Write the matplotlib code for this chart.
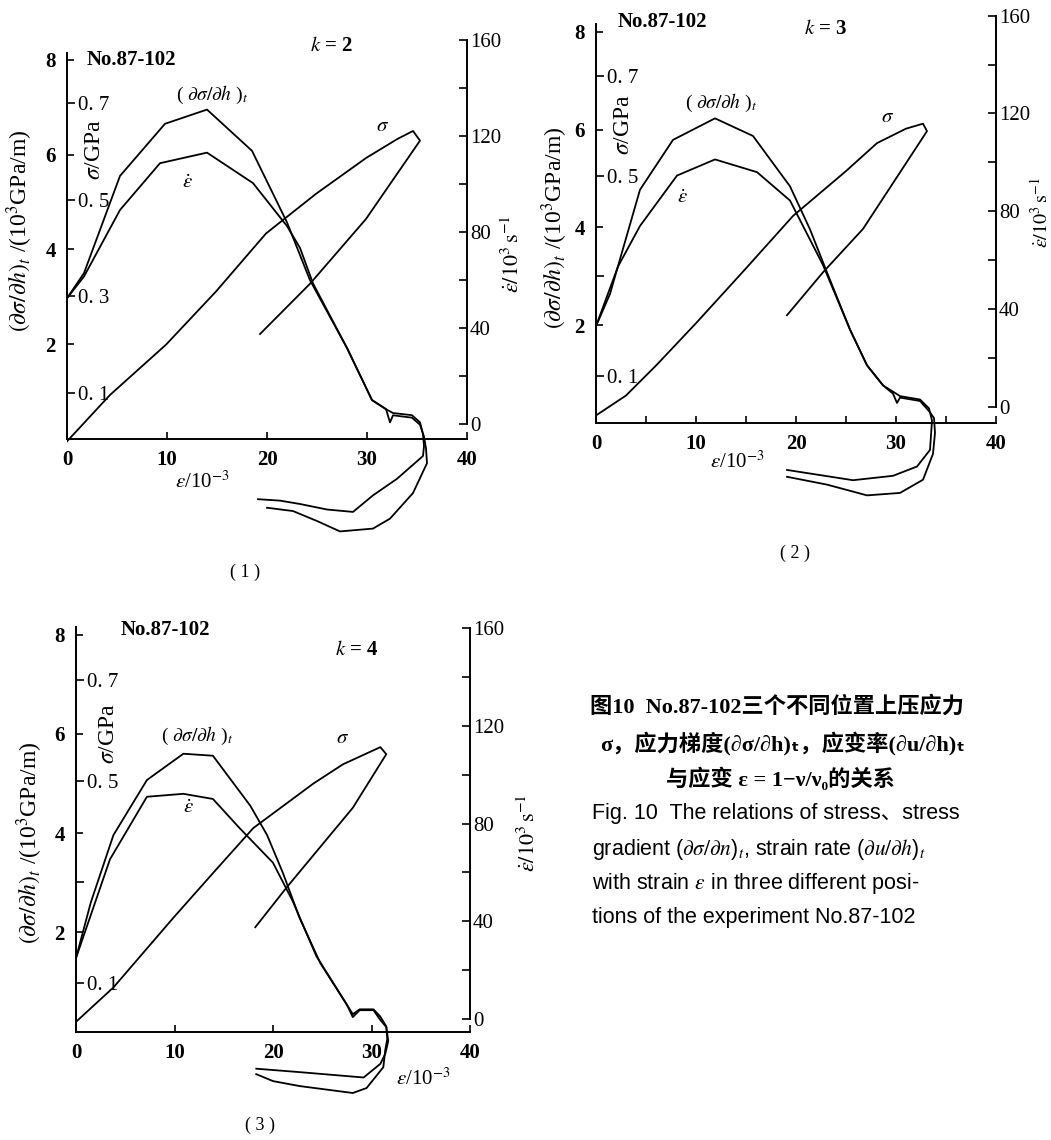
import matplotlib.pyplot as plt
from matplotlib.ticker import FixedLocator, FixedFormatter

plt.rcParams['mathtext.fontset'] = 'stix'
plt.rcParams['font.family'] = ['Liberation Serif', 'Noto Sans CJK SC', 'DejaVu Sans']

W, H = 1051, 1140

# ---- panel (1), k = 2 ----
grad1_x = [0, 1.7, 5.3, 9.8, 14.0, 18.5, 22.0, 24.3, 28.0, 30.5, 31.9, 32.3, 32.6, 34.5, 35.3,
           35.7, 35.9, 36.0, 34.6, 32.3, 30.6, 27.3, 25.0, 22.6, 20.0]
grad1_y = [2.97, 3.5, 5.55, 6.65, 6.95, 6.08, 4.57, 3.35, 1.92, 0.82, 0.63, 0.35, 0.5, 0.45, 0.3,
           0.05, -0.2, -0.51, -1.14, -1.68, -1.89, -1.95, -1.73, -1.52, -1.45]
rate1_x = [0, 1.7, 5.3, 9.3, 14.0, 18.6, 22.0, 23.3, 24.6, 28.0, 30.5, 31.9, 32.6, 34.5, 35.3,
           35.6, 35.7, 35.6, 33.0, 30.6, 28.6, 26.0, 23.3, 21.3, 19.1]
rate1_y = [52.3, 61.4, 89.1, 108.6, 113.0, 100.3, 82.4, 73.3, 58.5, 31.6, 9.9, 6.1, 4.5, 3.6, 0.6,
           -4.3, -9.3, -13.4, -22.9, -29.8, -36.7, -35.7, -33.4, -32.0, -31.4]
sig1_x = [0, 4.3, 9.9, 14.9, 19.9, 24.9, 29.9, 33.0, 34.6, 35.3, 29.9, 24.3, 19.3]
sig1_y = [0.0, 0.096, 0.2, 0.31, 0.43, 0.512, 0.586, 0.625, 0.642, 0.622, 0.46, 0.326, 0.222]

# ---- panel (2), k = 3 ----
grad2_x = [0, 1.4, 4.4, 7.7, 11.9, 15.7, 19.4, 21.4, 23.1, 25.4, 27.1, 28.7, 29.7, 30.1, 30.4,
           32.4, 33.4, 33.8, 33.9, 33.7, 32.7, 30.4, 27.1, 23.1, 19.1]
grad2_y = [1.98, 2.64, 4.77, 5.79, 6.23, 5.87, 4.84, 3.96, 3.08, 1.91, 1.18, 0.77, 0.6, 0.41, 0.52,
           0.45, 0.22, 0.1, -0.2, -0.63, -1.16, -1.43, -1.48, -1.26, -1.10]
rate2_x = [0, 2.2, 4.4, 8.1, 11.9, 16.1, 19.4, 22.7, 25.4, 27.1, 28.7, 30.4, 32.4, 33.3, 33.6,
           33.5, 33.4, 32.1, 29.7, 25.7, 19.1]
rate2_y = [33.0, 57.4, 74.0, 94.6, 101.2, 96.0, 84.4, 58.0, 31.6, 17.0, 8.8, 4.4, 3.0, -0.6, -5.6,
           -11.6, -17.6, -24.4, -28.2, -30.0, -25.8]
sig2_x = [0, 3, 6, 10, 15, 19.7, 25, 28.1, 31, 32.7, 33.1, 26.7, 22.7, 19.1]
sig2_y = [0.02, 0.06, 0.12, 0.205, 0.315, 0.42, 0.51, 0.566, 0.595, 0.605, 0.59, 0.394, 0.307, 0.221]

# ---- panel (3), k = 4 ----
grad3_x = [0, 1.5, 3.8, 7.2, 10.9, 13.9, 17.7, 19.4, 21.0, 22.7, 24.8, 27.5, 28.1, 28.8, 30.2,
           30.9, 31.5, 31.6, 31.4, 31.2, 29.5, 28.1, 22.7, 20.0, 18.3]
grad3_y = [1.48, 2.6, 3.96, 5.07, 5.6, 5.56, 4.55, 3.96, 3.2, 2.29, 1.38, 0.54, 0.29, 0.43, 0.43,
           0.23, 0.09, -0.15, -0.37, -0.72, -1.14, -1.24, -1.1, -1.0, -0.86]
rate3_x = [0, 3.45, 7.2, 10.9, 13.9, 16.6, 20.0, 22.0, 24.4, 27.5, 28.1, 28.8, 30.2, 30.9, 31.5,
           31.7, 31.4, 30.9, 29.2, 22.7, 18.3]
rate3_y = [25.0, 65.4, 91.0, 92.2, 90.1, 78.2, 64.0, 48.3, 25.8, 5.9, 2.0, 4.0, 4.0, 1.0, -3.0,
           -9.0, -14.2, -18.3, -23.9, -21.7, -20.3]
sig3_x = [0, 3.8, 9.9, 14, 18, 24.1, 27.1, 30.9, 31.5, 28.1, 21.4, 18.2]
sig3_y = [0.024, 0.092, 0.23, 0.32, 0.407, 0.495, 0.533, 0.567, 0.553, 0.447, 0.29, 0.211]

k_labels = ['2', '3', '4']
rate_ticks = list(range(0, 161, 20))
rate_labels = [str(v) if v % 40 == 0 else '' for v in rate_ticks]

fig = plt.figure(figsize=(W / 100, H / 100), dpi=100)

YLO, YHI = -2.6, 8.8
LW = 1.3


def panel(x0, y0, sx, sy, rate_off, rate_k, grad, rate, sig, k, pos, minor_x=False,
          sig_labels=('0. 1', '0. 3', '0. 5', '0. 7'), rfont=16):
    bottom_px = y0 - YLO * sy
    top_px = y0 - YHI * sy
    ax = fig.add_axes([x0 / W, 1 - bottom_px / H, 40 * sx / W, (bottom_px - top_px) / H])
    ax.set_xlim(0, 40)
    ax.set_ylim(YLO, YHI)
    ax.patch.set_visible(False)
    for s in ['top', 'right']:
        ax.spines[s].set_visible(False)
    ax.spines['bottom'].set_position(('data', 0))
    ax.spines['bottom'].set_bounds(0, 40)
    ax.spines['left'].set_bounds(0, 8.15)
    for s in ['bottom', 'left']:
        ax.spines[s].set_linewidth(1.4)
    ax.set_xticks([0, 10, 20, 30, 40])
    if minor_x:
        ax.set_xticks([5, 15, 25, 35], minor=True)
    ax.set_yticks([2, 4, 6, 8])
    ax.tick_params(direction='in', length=5, width=1.2, labelsize=15)
    ax.tick_params(axis='x', pad=8)
    ax.tick_params(axis='y', pad=8)
    ax.tick_params(axis='x', which='minor', direction='in', length=5, width=1.2)
    for lab in ax.get_xticklabels() + ax.get_yticklabels():
        lab.set_fontweight('bold')

    # strain-rate axis on the right
    rx = ax.twinx()
    rx.set_ylim(rate_k * (YLO - rate_off), rate_k * (YHI - rate_off))
    for s in ['top', 'left', 'bottom']:
        rx.spines[s].set_visible(False)
    rx.spines['right'].set_bounds(0, 160)
    rx.spines['right'].set_linewidth(1.4)
    rx.yaxis.set_major_locator(FixedLocator(rate_ticks))
    rx.yaxis.set_major_formatter(FixedFormatter(rate_labels))
    rx.tick_params(direction='in', length=6, width=1.2, labelsize=15, pad=2)

    # stress axis, drawn on the left spine with labels inside
    sg = ax.twinx()
    sg.set_ylim((YLO + 0.05) / 10.2, (YHI + 0.05) / 10.2)
    for s in sg.spines.values():
        s.set_visible(False)
    sg.yaxis.set_ticks_position('left')
    sg.set_yticks([0.1, 0.3, 0.5, 0.7])
    sg.set_yticklabels(list(sig_labels))
    sg.tick_params(direction='in', length=6, width=1.2, labelsize=15, pad=-8)
    for lab in sg.get_yticklabels():
        lab.set_horizontalalignment('left')

    ax.plot(grad[0], grad[1], color='black', lw=LW)
    rx.plot(rate[0], rate[1], color='black', lw=LW)
    sg.plot(sig[0], sig[1], color='black', lw=LW)

    tx = dict(color='black')
    ax.text(pos['ylab'][0], pos['ylab'][1],
            r'$(\partial\sigma/\partial h)_t$ /(10$^3$GPa/m)', rotation=90,
            ha='center', va='center', fontsize=17, **tx)
    ax.text(pos['slab'][0], pos['slab'][1], r'$\sigma$/GPa', rotation=90,
            ha='center', va='center', fontsize=17, **tx)
    ax.text(pos['rlab'][0], pos['rlab'][1], r'$\dot{\varepsilon}/10^3\,\mathrm{s}^{-1}$',
            rotation=90, ha='center', va='center', fontsize=rfont, **tx)
    ax.text(pos['xlab'][0], pos['xlab'][1], r'$\varepsilon$/10$^{-3}$',
            ha='center', va='center', fontsize=15, **tx)
    ax.text(pos['no'][0], pos['no'][1], 'No.87-102', ha='left', va='center',
            fontsize=15, fontweight='bold', **tx)
    ax.text(pos['k'][0], pos['k'][1], r'$k$ = ' + k, ha='center', va='center',
            fontsize=15, fontweight='bold', **tx)
    ax.text(pos['g'][0], pos['g'][1], r'( $\partial\sigma/\partial h$ )$_t$',
            ha='center', va='center', fontsize=14, **tx)
    ax.text(pos['e'][0], pos['e'][1], r'$\dot{\varepsilon}$', ha='center', va='center',
            fontsize=15, **tx)
    ax.text(pos['s'][0], pos['s'][1], r'$\sigma$', ha='center', va='center',
            fontsize=15, **tx)
    return ax


panel(67, 439, 10.0, 47.4, 0.32, 19.75, (grad1_x, grad1_y), (rate1_x, rate1_y),
      (sig1_x, sig1_y), k_labels[0],
      dict(ylab=(-4.7, 4.4), slab=(2.8, 6.1), rlab=(44.6, 3.9), xlab=(13.5, -0.9),
           no=(2.0, 8.0), k=(26.5, 8.3), g=(14.5, 7.25), e=(12.0, 5.4), s=(31.6, 6.6)))
panel(596, 423, 10.0, 48.9, 0.33, 20.0, (grad2_x, grad2_y), (rate2_x, rate2_y),
      (sig2_x, sig2_y), k_labels[1],
      dict(ylab=(-4.1, 4.0), slab=(2.7, 6.1), rlab=(44.6, 4.3), xlab=(14.1, -0.8),
           no=(2.2, 8.2), k=(23.0, 8.05), g=(12.5, 6.55), e=(8.6, 4.6), s=(29.2, 6.25)),
      minor_x=True, sig_labels=('0. 1', '', '0. 5', '0. 7'), rfont=14.5)
panel(76, 1031.5, 9.85, 49.6, 0.25, 20.3, (grad3_x, grad3_y), (rate3_x, rate3_y),
      (sig3_x, sig3_y), k_labels[2],
      dict(ylab=(-4.7, 3.8), slab=(3.3, 6.0), rlab=(46.0, 4.0), xlab=(35.3, -0.95),
           no=(4.5, 8.1), k=(28.5, 7.7), g=(12.3, 5.95), e=(11.4, 4.5), s=(27.1, 5.9)),
      sig_labels=('0. 1', '', '0. 5', '0. 7'))

fig.text(245 / W, 1 - 572 / H, '( 1 )', ha='center', va='center', fontsize=13)
fig.text(795 / W, 1 - 553 / H, '( 2 )', ha='center', va='center', fontsize=13)
fig.text(260 / W, 1 - 1125 / H, '( 3 )', ha='center', va='center', fontsize=13)

cap = dict(fontsize=16, fontweight='bold', va='center',
           family=['Liberation Serif', 'Noto Sans CJK SC', 'DejaVu Sans'])
fig.text(590 / W, 1 - 707 / H, '图10  No.87-102三个不同位置上压应力', ha='left', **cap)
fig.text(783 / W, 1 - 744 / H, 'σ，应力梯度(∂σ/∂h)ₜ，应变率(∂u/∂h)ₜ', ha='center', **cap)
fig.text(780 / W, 1 - 779 / H, '与应变 ε = 1−ν/ν₀的关系', ha='center', **cap)

eng = dict(fontsize=15.5, va='center', ha='left',
           family=['Liberation Sans', 'Noto Sans CJK SC', 'DejaVu Sans'])
fig.text(592 / W, 1 - 814 / H, 'Fig. 10  The relations of stress、stress', **eng)
fig.text(592 / W, 1 - 849 / H,
         r'gradient ($\partial\sigma/\partial n$)$_t$, strain rate ($\partial u/\partial h$)$_t$',
         **eng)
fig.text(592 / W, 1 - 884 / H, r'with strain $\varepsilon$ in three different posi-', **eng)
fig.text(592 / W, 1 - 917 / H, 'tions of the experiment No.87-102', **eng)

fig.savefig('out.png', dpi=100)
